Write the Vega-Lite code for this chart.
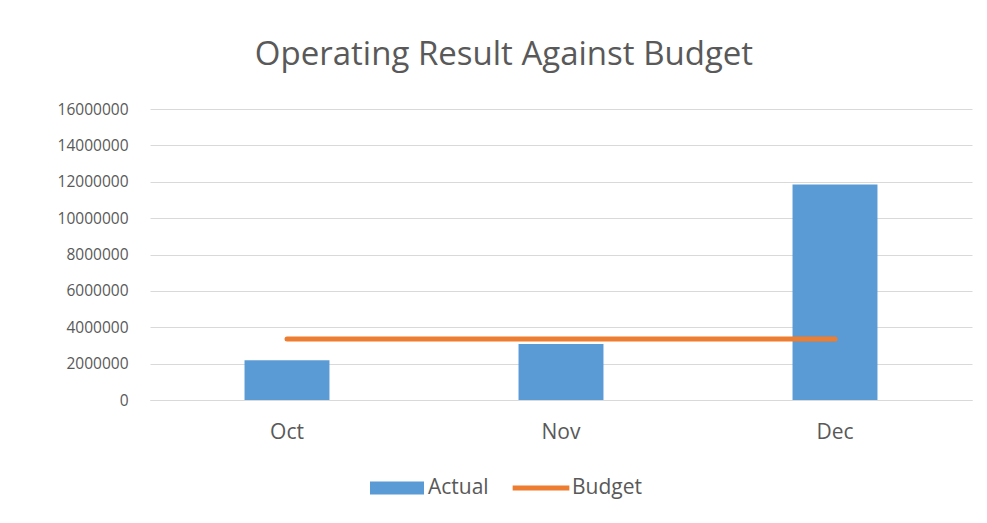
{
  "$schema": "https://vega.github.io/schema/vega-lite/v6.json",
  "autosize": "none",
  "width": 822,
  "height": 291,
  "padding": {"left": 150, "top": 109, "right": 15, "bottom": 123},
  "background": "white",
  "config": {"view": {"stroke": null}},
  "title": {
    "text": "Operating Result Against Budget",
    "font": "Open Sans",
    "fontSize": 33,
    "fontWeight": "normal",
    "color": "#595959",
    "anchor": "middle",
    "dx": -57,
    "offset": 30
  },
  "data": {
    "values": [
      {"month": "Oct", "Actual": 2180000, "Budget": 3350000},
      {"month": "Nov", "Actual": 3080000, "Budget": 3350000},
      {"month": "Dec", "Actual": 11850000, "Budget": 3350000}
    ]
  },
  "encoding": {
    "x": {
      "field": "month",
      "type": "nominal",
      "sort": ["Oct", "Nov", "Dec"],
      "scale": {"paddingInner": 0.69, "paddingOuter": 0.345},
      "axis": {
        "title": null,
        "labelAngle": 0,
        "labelFont": "Open Sans",
        "labelFontSize": 21,
        "labelColor": "#595959",
        "labelPadding": 21,
        "ticks": false,
        "domain": true,
        "domainColor": "#D9D9D9",
        "domainWidth": 1
      }
    }
  },
  "layer": [
    {
      "mark": {"type": "bar", "color": "#5B9BD5"},
      "encoding": {
        "y": {
          "field": "Actual",
          "type": "quantitative",
          "scale": {"domain": [0, 16000000]},
          "axis": {
            "title": null,
            "values": [0, 2000000, 4000000, 6000000, 8000000, 10000000, 12000000, 14000000, 16000000],
            "format": "d",
            "labelOverlap": false,
            "labelFont": "Open Sans",
            "labelFontSize": 15.5,
            "labelColor": "#595959",
            "labelPadding": 22,
            "ticks": false,
            "domain": false,
            "grid": true,
            "gridColor": "#D9D9D9",
            "gridWidth": 1
          }
        },
        "color": {
          "datum": "Actual",
          "type": "nominal",
          "scale": {"domain": ["Actual", "Budget"], "range": ["#5B9BD5", "#ED7D31"]},
          "legend": {
            "title": null,
            "orient": "none",
            "direction": "horizontal",
            "legendX": 220,
            "legendY": 352,
            "labelFont": "Open Sans",
            "labelFontSize": 21,
            "labelColor": "#595959",
            "labelOffset": 4,
            "symbolSize": 2916,
            "columnPadding": 23,
            "symbolStrokeWidth": 0,
            "encode": {
              "symbols": {
                "update": {
                  "shape": {"signal": "datum.value === 'Actual' ? 'M-1,-0.24H1V0.24H-1Z' : 'M-1.05,-0.09H1.05V0.09H-1.05Z'"},
                  "fill": {"signal": "datum.value === 'Actual' ? '#5B9BD5' : '#ED7D31'"},
                  "fillOpacity": {"value": 1},
                  "strokeWidth": {"value": 0}
                }
              }
            }
          }
        }
      }
    },
    {
      "mark": {"type": "line", "strokeWidth": 5, "strokeCap": "round"},
      "encoding": {
        "y": {
          "field": "Budget",
          "type": "quantitative",
          "scale": {"domain": [0, 16000000]},
          "axis": {
            "title": null,
            "values": [0, 2000000, 4000000, 6000000, 8000000, 10000000, 12000000, 14000000, 16000000],
            "format": "d",
            "labelOverlap": false,
            "labelFont": "Open Sans",
            "labelFontSize": 15.5,
            "labelColor": "#595959",
            "labelPadding": 22,
            "ticks": false,
            "domain": false,
            "grid": true,
            "gridColor": "#D9D9D9",
            "gridWidth": 1
          }
        },
        "color": {"datum": "Budget", "type": "nominal"}
      }
    }
  ]
}
